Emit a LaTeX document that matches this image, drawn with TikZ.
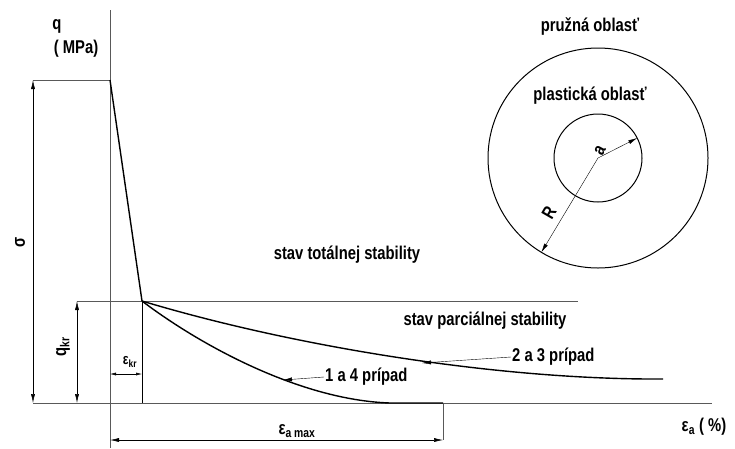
\documentclass[tikz,border=0pt]{standalone}
\usepackage{fontspec}
\setmainfont[FakeStretch=0.8]{Liberation Sans}
\usetikzlibrary{arrows.meta,positioning,calc}

\begin{document}
\begin{tikzpicture}[x=1pt,y=-1pt,
        every node/.style={font=\fontsize{18.5}{21}\selectfont\bfseries, inner sep=1pt},
        thin line/.style={gray!70!black, line width=0.6pt},
        dimline/.style={line width=0.5pt, {Latex[length=9pt,width=4pt]}-{Latex[length=9pt,width=4pt]}},
        curve/.style={line width=1.4pt},
        leader/.style={line width=0.4pt, -{Latex[length=9pt,width=4pt]}},
        small/.style={font=\fontsize{15}{17}\selectfont\bfseries}
    ]
        \useasboundingbox (0,0) rectangle (735,448);
        % key points
        \coordinate (qtop) at (110,80);
        \coordinate (knee) at (142,301);
        \coordinate (emax) at (443,403);
        \coordinate (end23) at (663,379);

        % axes and reference lines
        \draw[thin line] (110,10) -- (110,448);
        \draw[thin line] (33,403) -- (712,403);
        \draw[thin line] (33,80) -- (qtop);
        \draw[thin line] (77,301) -- (578,301);
        \draw[black, line width=0.5pt] (knee) -- (142,403);
        \draw[thin line] (emax) -- (443,440);

        % dimensions
        \draw[dimline] (33,80) -- (33,403);
        \draw[dimline] (77,301) -- (77,403);
        \draw[dimline, {Latex[length=6pt,width=3pt]}-{Latex[length=6pt,width=3pt]}] (110,374) -- (142,374);
        \draw[dimline] (110,440) -- (443,440);

        % curves
        \draw[curve] (qtop) -- (knee);
        \draw[curve] (knee) .. controls (295,347) and (500,380) .. (end23);
        \draw[curve] (knee) .. controls (200,345) and (300,400) .. (390,403) -- (emax);

        % labels
        \node (q) at (57,26) {q};
        \node (mpa) at (76,49) {( MPa)};
        \node[rotate=90] (sigma) at (20,242) {σ};
        \node[rotate=90] (qkr) at (63,347) {q\textsubscript{kr}};
        \node[small] (ekr) at (130,362) {ε\textsubscript{kr}};
        \node (eamax) at (297,431) {ε\textsubscript{a max}};
        \node (ea) at (704,427) {ε\textsubscript{a} ( \%)};
        \node (total) at (347,255) {stav totálnej stability};
        \node (partial) at (485,321) {stav parciálnej stability};
        \node[anchor=west] (c23) at (511,357) {2 a 3 prípad};
        \node[anchor=west] (c14) at (324,377) {1 a 4 prípad};
        \draw[leader] (c23.west) -- (422,363);
        \draw[leader] (c14.west) -- (283,380);

        % tunnel cross-section
        \coordinate (ctr) at (598,158);
        \draw[line width=1pt] (ctr) circle[radius=110];
        \draw[line width=1pt] (ctr) circle[radius=44];
        \draw[leader] (ctr) -- ($(ctr)+(-27:44)$);
        \draw[leader] (ctr) -- ($(ctr)+(121:110)$);
        \node (elastic) at (590,27) {pružná oblasť};
        \node (plastic) at (590,96) {plastická oblasť};
        \node[rotate=62] (alab) at (600,151) {a};
        \node[rotate=60] (rlab) at (549,213) {R};
    \end{tikzpicture}
\end{document}
